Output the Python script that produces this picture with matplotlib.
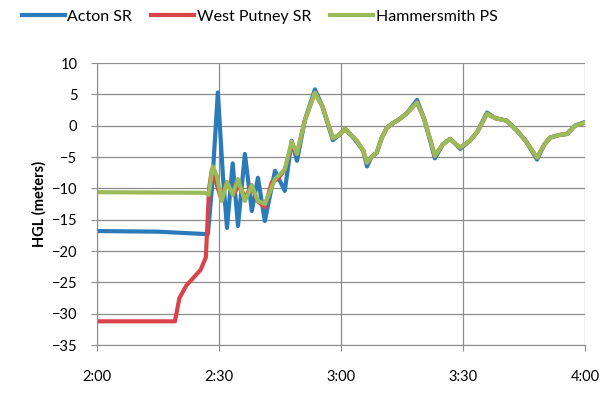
import matplotlib.pyplot as plt
from matplotlib.ticker import FixedLocator

plt.rcParams['font.family'] = ['Lato', 'DejaVu Sans']

# minutes after 2:00
tail_t = [51.1, 53.6, 55.5, 58, 59.5, 61, 62.5, 63.9, 65.5, 66.4, 67.5, 68.8, 70, 71.3, 73,
          74.5, 76.2, 78.7, 80.5, 83.1, 85, 86.8, 88, 89.3, 91.7, 93.5, 95.9, 98, 100.8,
          103.3, 105.5, 108.2, 110, 111.4, 113.5, 115.6, 117.5, 120]
tail_v = [0.8, 5.3, 3, -2, -1.5, -0.5, -1.5, -2.4, -4, -5.9, -5, -4.3, -2, -0.3, 0.5,
          1.1, 2, 3.7, 1, -4.8, -3, -2.1, -2.8, -3.5, -2.4, -1, 1.9, 1.2, 0.8,
          -0.8, -2.5, -5.1, -3, -1.9, -1.5, -1.3, 0, 0.5]
acton_tail_v = [0.8, 5.8, 3, -2.3, -1.5, -0.5, -1.5, -2.6, -4, -6.5, -5, -4.3, -2, -0.3, 0.5,
                1.1, 2, 4.1, 1, -5.2, -3, -2.1, -2.8, -3.7, -2.4, -1, 2.1, 1.2, 0.8,
                -0.8, -2.5, -5.4, -3, -1.9, -1.5, -1.3, 0, 0.6]

acton_t = [0, 15, 27.3, 28.3, 29.75, 31.0, 32.0, 33.4, 34.7, 36.4, 38.1, 39.6, 41.3, 43.8,
           46.2, 47.9, 49.2] + tail_t
acton_v = [-16.8, -16.9, -17.3, -10, 5.3, -8, -16.3, -6, -16, -4.5, -13.6, -8.3, -15.2, -7.2,
           -10.4, -2.4, -5.6] + acton_tail_v

putney_t = [0, 19.2, 20.3, 22, 25.5, 26.8, 27.6, 28.3, 29.3, 30.5, 32, 33.5, 35, 36.5, 38,
            39.5, 41.3, 43, 44.5, 46.2, 47.9, 49.2] + tail_t
putney_v = [-31.2, -31.2, -27.5, -25.5, -23, -21, -10, -7, -9, -11.5, -9, -11, -9.5, -11.5,
            -9.5, -12, -13, -9, -8.5, -7, -3, -4.5] + tail_v

hammer_t = [0, 26.5, 27.5, 28.5, 29.5, 30.7, 32, 33.4, 34.7, 36.4, 38.1, 39.6, 41.3, 43.8,
            46.2, 47.9, 49.2] + tail_t
hammer_v = [-10.6, -10.7, -11, -6.5, -8, -12, -9, -11, -8.5, -12, -9.5, -12, -12.5, -8.5,
            -7, -2.5, -4.5] + tail_v

xticks = [0, 30, 60, 90, 120]
xlabels = ['2:00', '2:30', '3:00', '3:30', '4:00']

fig = plt.figure(figsize=(6.05, 3.94), dpi=100)
ax = fig.add_axes([0.160, 0.124, 0.807, 0.716])

ax.plot(acton_t, acton_v, color='#2b7bba', lw=3.0, label='Acton SR')
ax.plot(putney_t, putney_v, color='#d9444a', lw=3.0, label='West Putney SR')
ax.plot(hammer_t, hammer_v, color='#9bbb59', lw=3.0, label='Hammersmith PS')

ax.set_xlim(0, 120)
ax.set_ylim(-35, 10)
ax.set_xticks(xticks)
ax.set_xticklabels(xlabels)
ax.yaxis.set_major_locator(FixedLocator(range(-35, 11, 5)))
ax.grid(True, color='#8c8c8c', lw=0.9)
ax.set_axisbelow(True)
for s in ['top', 'right']:
    ax.spines[s].set_visible(False)
for s in ['left', 'bottom']:
    ax.spines[s].set_color('#8c8c8c')
ax.tick_params(colors='#8c8c8c', labelcolor='black', labelsize=10.5, length=4)
ax.tick_params(axis='x', pad=14)
ax.tick_params(axis='y', pad=10)
ax.set_ylabel('HGL (meters)', fontsize=10.5, fontweight='bold', labelpad=4)

fig.legend(loc='upper left', bbox_to_anchor=(0.02, 1.0), ncol=3, frameon=False,
           fontsize=11.5, handlelength=2.7, columnspacing=1.2, handletextpad=0.15,
           borderaxespad=0.2)

fig.savefig('out.png', dpi=100)
